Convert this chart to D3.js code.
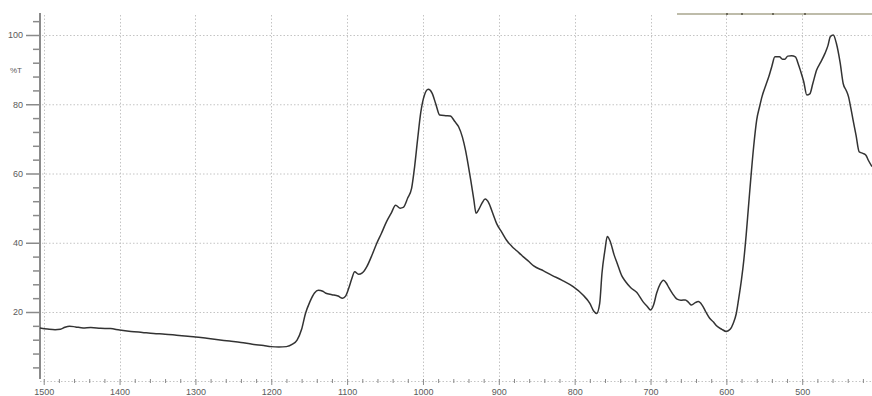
<!DOCTYPE html>
<html>
<head>
<meta charset="utf-8">
<script src="https://cdn.jsdelivr.net/npm/d3@7"></script>
<style>
  html, body { margin: 0; padding: 0; background: #fff; }
  svg { display: block; }
  text { font-family: "Liberation Sans", Arial, sans-serif; }
</style>
</head>
<body>
<svg id="chart" width="872" height="396"></svg>
<script>
// IR spectrum: wavenumber (cm-1) vs transmittance (%T)
const wavenumber = [
  1505, 1495, 1485, 1478, 1472, 1466, 1458, 1448, 1438, 1425, 1412, 1400,
  1385, 1370, 1355, 1340, 1325, 1310, 1300, 1285, 1270, 1255, 1240, 1225,
  1210, 1200, 1190, 1180, 1172, 1166, 1160, 1155, 1149, 1143, 1138, 1132,
  1128, 1120, 1112, 1106, 1102, 1098, 1094, 1090, 1085, 1080, 1074, 1068,
  1061, 1055, 1048, 1042, 1036, 1030, 1026, 1020, 1015, 1011, 1007, 1003,
  998, 993, 988, 983, 978, 970, 964, 958, 953, 948, 944, 940,
  937, 933, 930, 926, 922, 918, 913, 908, 903, 896, 890, 883,
  876, 868, 860, 854, 841, 830, 817, 802, 789, 780, 775, 771,
  767, 764, 760, 757, 753, 748, 744, 738, 733, 726, 718, 710,
  704, 700, 696, 692, 687, 683, 679, 676, 671, 665, 660, 654,
  650, 646, 641, 637, 632, 627, 622, 617, 613, 606, 600, 595,
  591, 587, 584, 580, 577, 574, 571, 568, 564, 560, 556, 553,
  548, 544, 540, 536, 530, 526, 523, 519, 514, 509, 505, 502,
  498, 494, 490, 486, 481, 476, 470, 466, 463, 459, 455, 450,
  446, 442, 439, 436, 433, 429, 425, 420, 416, 413, 408
];
const transmittance = [
  15.4, 15.1, 14.9, 15.0, 15.6, 15.9, 15.7, 15.4, 15.5, 15.3, 15.2, 14.8,
  14.4, 14.1, 13.8, 13.6, 13.3, 13.0, 12.8, 12.4, 12.0, 11.6, 11.2, 10.7,
  10.3, 10.0, 9.9, 10.0, 10.7, 11.9, 15.0, 19.5, 23.0, 25.5, 26.3, 26.0,
  25.4, 25.0, 24.6, 24.0, 24.6, 26.8, 29.5, 31.6, 30.9, 31.3, 33.1, 36.0,
  39.8, 42.6, 46.1, 48.5, 50.8, 50.0, 50.2, 53.0, 55.7, 62.0, 70.0, 77.5,
  82.7, 84.3, 83.2, 80.0, 76.9, 76.7, 76.6, 75.0, 73.5, 70.5, 66.8, 62.0,
  58.1, 52.5, 48.5, 49.8, 51.5, 52.6, 51.4, 48.5, 45.6, 43.0, 40.8, 39.0,
  37.6, 36.0, 34.5, 33.3, 31.9, 30.6, 29.2, 27.3, 24.9, 22.5, 20.3, 19.6,
  22.5, 31.2, 38.0, 41.8, 40.3, 36.5, 34.1, 30.5, 28.8, 27.0, 25.6, 23.0,
  21.5, 20.6, 22.0, 25.4, 28.2, 29.2, 28.3, 27.1, 25.3, 23.7, 23.4, 23.5,
  22.8, 22.0, 22.7, 23.0, 22.0, 20.0, 18.2, 17.1, 16.0, 15.0, 14.4, 15.0,
  16.7, 19.5, 23.5, 29.5, 35.0, 42.0, 50.0, 58.0, 67.8, 75.5, 79.5, 82.2,
  85.5, 88.0, 91.0, 93.7, 93.7, 93.0, 93.0, 93.9, 94.0, 93.7, 91.5, 89.5,
  86.5, 82.7, 83.0, 86.0, 89.9, 92.0, 94.7, 97.0, 99.5, 100.0, 97.6, 92.0,
  86.0, 84.0, 82.2, 79.0, 75.5, 71.0, 66.3, 65.8, 65.3, 63.9, 62.0
];
const xMajorTicks = [1500, 1400, 1300, 1200, 1100, 1000, 900, 800, 700, 600, 500];
const yMajorTicks = [20, 40, 60, 80, 100];
const yAxisTitle = "%T";

const svg = d3.select("#chart");
const W = 872;

const x = d3.scaleLinear().domain([1504.9, 408]).range([40, W]);
const y = d3.scaleLinear().domain([0, 100]).range([381.25, 35]);

const xMinor = d3.range(420, 1501, 20).filter(v => v % 100 !== 0);
const yMinor = d3.range(4, 105, 4).filter(v => v % 20 !== 0);

const gridColor = "#c4c4c4";
const axisColor = "#8a8a8a";
const labelColor = "#5a5a5a";

// dotted grid
const grid = svg.append("g");
grid.selectAll("line.h").data(yMajorTicks).join("line")
  .attr("x1", 42).attr("x2", W)
  .attr("y1", d => y(d) + 0.5).attr("y2", d => y(d) + 0.5)
  .attr("stroke", gridColor).attr("stroke-width", 1)
  .attr("stroke-dasharray", "1.5,2");
grid.selectAll("line.v").data(xMajorTicks).join("line")
  .attr("x1", d => Math.round(x(d)) + 0.5).attr("x2", d => Math.round(x(d)) + 0.5)
  .attr("y1", 15).attr("y2", 381)
  .attr("stroke", gridColor).attr("stroke-width", 1)
  .attr("stroke-dasharray", "1.5,2");

// bottom axis: dotted baseline with minor and major ticks
const xAxisY = 381;
svg.append("line")
  .attr("x1", 40).attr("x2", W).attr("y1", xAxisY + 0.5).attr("y2", xAxisY + 0.5)
  .attr("stroke", gridColor).attr("stroke-dasharray", "1.5,2");
const xAxisMinor = d3.axisBottom(x).tickValues(xMinor).tickSize(4).tickFormat("");
const xAxisMajor = d3.axisBottom(x).tickValues(xMajorTicks).tickSize(6).tickPadding(3.5).tickFormat(d3.format("d"));
const gxm = svg.append("g").attr("transform", `translate(0,${xAxisY - 2})`).call(xAxisMinor);
const gxM = svg.append("g").attr("transform", `translate(0,${xAxisY - 2})`).call(xAxisMajor);
[gxm, gxM].forEach(g => {
  g.select(".domain").remove();
  g.selectAll(".tick line").attr("stroke", axisColor);
});
gxM.selectAll(".tick text").attr("fill", labelColor).attr("font-size", 9);

// left axis
const yAxisMinor = d3.axisLeft(y).tickValues(yMinor).tickSize(7).tickFormat("");
const yAxisMajor = d3.axisLeft(y).tickValues(yMajorTicks).tickSize(14).tickPadding(3).tickFormat(d3.format("d"));
const gym = svg.append("g").attr("transform", "translate(40,0)").call(yAxisMinor);
const gyM = svg.append("g").attr("transform", "translate(40,0)").call(yAxisMajor);
[gym, gyM].forEach(g => {
  g.select(".domain").remove();
  g.selectAll(".tick line").attr("stroke", axisColor).attr("stroke-width", 1.5);
});
gyM.selectAll(".tick text").attr("fill", labelColor).attr("font-size", 9);
svg.append("line")
  .attr("x1", 40).attr("x2", 40).attr("y1", 13).attr("y2", 379)
  .attr("stroke", axisColor).attr("stroke-width", 2);
svg.append("text")
  .attr("x", 22).attr("y", 73).attr("text-anchor", "end")
  .attr("font-size", 8).attr("fill", labelColor)
  .text(yAxisTitle);

// window edge strip at the top right
svg.append("line")
  .attr("x1", 677).attr("x2", W).attr("y1", 14).attr("y2", 14)
  .attr("stroke", "#a9a68e").attr("stroke-width", 1.6);
svg.selectAll("rect.nub").data([727, 742, 773, 805]).join("rect")
  .attr("x", d => d - 1).attr("y", 13).attr("width", 2).attr("height", 2)
  .attr("fill", "#6f6c5c");

// spectrum trace
const points = wavenumber.map((w, i) => [w, transmittance[i]]);
const line = d3.line()
  .x(d => x(d[0]))
  .y(d => y(d[1]))
  .curve(d3.curveMonotoneX);
svg.append("path")
  .datum(points)
  .attr("d", line)
  .attr("fill", "none")
  .attr("stroke", "#333")
  .attr("stroke-width", 1.5)
  .attr("stroke-linejoin", "round");
</script>
</body>
</html>
